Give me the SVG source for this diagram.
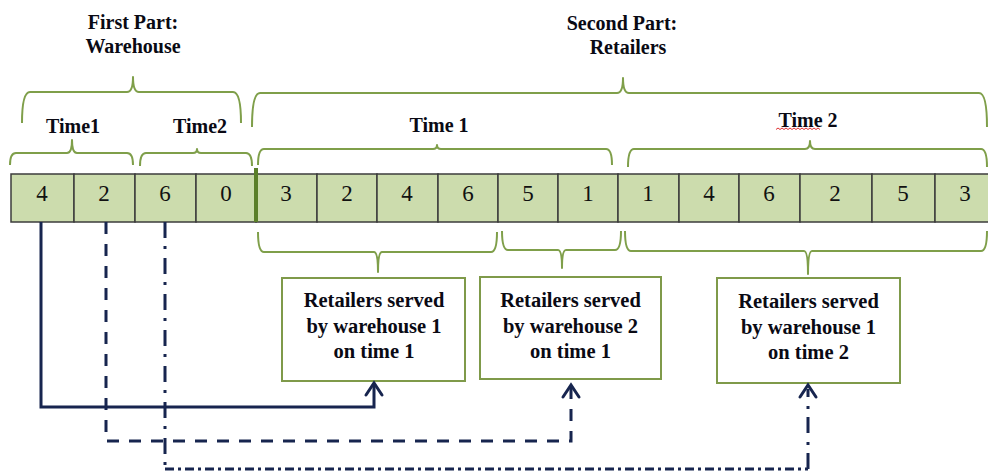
<svg xmlns="http://www.w3.org/2000/svg" width="988" height="473" viewBox="0 0 988 473">
  <style>
    .title { font-family: "Liberation Serif", "Times New Roman", serif; font-weight: bold; font-size: 20px; fill: #0a0a14; text-anchor: middle; }
    .num { font-family: "Liberation Serif", "Times New Roman", serif; font-size: 23px; fill: #111111; text-anchor: middle; }
    .box text { font-family: "Liberation Serif", "Times New Roman", serif; font-weight: bold; font-size: 20.5px; fill: #0a0a14; text-anchor: middle; }
    .brace { fill: none; stroke: #7f9f4a; stroke-width: 2; stroke-linejoin: round; }
    .cell { fill: #ccdcad; stroke: #3c3c3c; stroke-width: 1.5; }
    .boxrect { fill: #ffffff; stroke: #7f9a4a; stroke-width: 2; }
    .link { fill: none; stroke: #17254f; stroke-width: 3; }
    .head { fill: none; stroke: #17254f; stroke-width: 3; stroke-linecap: round; stroke-linejoin: miter; }
  </style>

  <rect width="988" height="473" fill="#ffffff"/>

  <!-- headings -->
  <g id="heading-warehouse">
    <text class="title" x="133" y="29">First Part:</text>
    <text class="title" x="133" y="53">Warehouse</text>
  </g>
  <g id="heading-retailers">
    <text class="title" x="622" y="30">Second Part:</text>
    <text class="title" x="628" y="54">Retailers</text>
  </g>

  <!-- upper braces -->
  <g id="braces-top">
    <path class="brace" d="M22,123 Q22,92 30,92 L127,92 Q133,92 133,77 Q133,92 139,92 L233,92 Q241,92 241,123"/>
    <path class="brace" d="M252,127 Q252,93 260,93 L617,93 Q623,93 623,78 Q623,93 629,93 L979,93 Q987,93 987,127"/>
    <path class="brace" d="M10,165 Q10,153 16,153 L67,153 Q72,153 72,140 Q72,153 77,153 L127,153 Q133,153 133,165"/>
    <path class="brace" d="M140,166 Q140,153 146,153 L193,153 Q197,153 197,149 Q197,153 201,153 L246,153 Q252,153 252,166"/>
    <path class="brace" d="M258,165 Q258,149 264,149 L433,149 Q437,149 437,145 Q437,149 441,149 L606,149 Q612,149 612,165"/>
    <path class="brace" d="M628,167 Q628,149 634,149 L805,149 Q810,149 810,141 Q810,149 815,149 L981,149 Q987,149 987,167"/>
  </g>

  <!-- time labels -->
  <g id="label-time1-wh"><text class="title" x="73" y="133">Time1</text></g>
  <g id="label-time2-wh"><text class="title" x="200" y="133">Time2</text></g>
  <g id="label-time1-rt"><text class="title" x="439" y="132">Time 1</text></g>
  <g id="label-time2-rt">
    <text class="title" x="808" y="127">Time 2</text>
    <path d="M776,129.5 l2,-1.5 l2,1.5 l2,-1.5 l2,1.5 l2,-1.5 l2,1.5 l2,-1.5 l2,1.5 l2,-1.5 l2,1.5 l2,-1.5 l2,1.5 l2,-1.5 l2,1.5 l2,-1.5 l2,1.5 l2,-1.5 l2,1.5 l2,-1.5 l2,1.5 l2,-1.5 l2,1.5" fill="none" stroke="#e03030" stroke-width="1"/>
  </g>

  <!-- chromosome row -->
  <g id="sequence">
    <rect class="cell" x="11" y="174" width="63" height="48"/>
    <rect class="cell" x="74" y="174" width="61" height="48"/>
    <rect class="cell" x="135" y="174" width="61" height="48"/>
    <rect class="cell" x="196" y="174" width="60" height="48"/>
    <rect class="cell" x="256" y="174" width="61" height="48"/>
    <rect class="cell" x="317" y="174" width="60" height="48"/>
    <rect class="cell" x="377" y="174" width="61" height="48"/>
    <rect class="cell" x="438" y="174" width="60" height="48"/>
    <rect class="cell" x="498" y="174" width="60" height="48"/>
    <rect class="cell" x="558" y="174" width="60" height="48"/>
    <rect class="cell" x="618" y="174" width="61" height="48"/>
    <rect class="cell" x="679" y="174" width="60" height="48"/>
    <rect class="cell" x="739" y="174" width="61" height="48"/>
    <rect class="cell" x="800" y="174" width="72" height="48"/>
    <rect class="cell" x="872" y="174" width="63" height="48"/>
    <rect class="cell" x="935" y="174" width="60" height="48"/>
    <line x1="256" y1="168" x2="256" y2="222" stroke="#5b7f2a" stroke-width="4"/>
    <text class="num" x="42" y="201">4</text>
    <text class="num" x="104" y="201">2</text>
    <text class="num" x="165" y="201">6</text>
    <text class="num" x="226" y="201">0</text>
    <text class="num" x="286" y="201">3</text>
    <text class="num" x="347" y="201">2</text>
    <text class="num" x="407" y="201">4</text>
    <text class="num" x="468" y="201">6</text>
    <text class="num" x="528" y="201">5</text>
    <text class="num" x="588" y="201">1</text>
    <text class="num" x="648" y="201">1</text>
    <text class="num" x="709" y="201">4</text>
    <text class="num" x="769" y="201">6</text>
    <text class="num" x="835" y="201">2</text>
    <text class="num" x="903" y="201">5</text>
    <text class="num" x="965" y="201">3</text>
  </g>

  <!-- lower braces -->
  <g id="braces-bottom">
    <path class="brace" d="M258,232 Q258,252 264,252 L374,252 Q378,252 378,272 Q378,252 382,252 L491,252 Q497,252 497,232"/>
    <path class="brace" d="M502,231 Q502,250 508,250 L558,250 Q562,250 562,268 Q562,250 566,250 L615,250 Q621,250 621,231"/>
    <path class="brace" d="M625,231 Q625,251 631,251 L804,251 Q808,251 808,274 Q808,251 812,251 L981,251 Q987,251 987,231"/>
  </g>

  <!-- retailer group boxes -->
  <g id="box-w1-t1" class="box">
    <rect class="boxrect" x="282" y="278" width="183" height="103"/>
    <text x="374" y="307">Retailers served</text>
    <text x="374" y="333">by warehouse 1</text>
    <text x="374" y="358">on time 1</text>
  </g>
  <g id="box-w2-t1" class="box">
    <rect class="boxrect" x="480" y="277" width="181" height="102"/>
    <text x="570.5" y="307">Retailers served</text>
    <text x="570.5" y="333">by warehouse 2</text>
    <text x="570.5" y="358">on time 1</text>
  </g>
  <g id="box-w1-t2" class="box">
    <rect class="boxrect" x="717" y="278" width="183" height="105"/>
    <text x="808.5" y="308">Retailers served</text>
    <text x="808.5" y="334">by warehouse 1</text>
    <text x="808.5" y="359">on time 2</text>
  </g>

  <!-- assignment connectors -->
  <g id="connectors">
    <path class="link" d="M41,222 V407 H374 V385"/>
    <path class="head" d="M366,395 L374,383 L382,395"/>

    <path class="link" d="M106,222 V441 H571 V387" stroke-dasharray="12 10"/>
    <path class="head" d="M563,397 L571,385 L579,397"/>

    <path class="link" d="M165,222 V469" stroke-dasharray="16 8 3 9"/>
    <path class="link" d="M165,469 H808" stroke-dasharray="9 4 3 4"/>
    <path class="link" d="M808,469 V389" stroke-dasharray="16 8 3 9"/>
    <path class="head" d="M800,397 L808,385 L816,397"/>
  </g>
</svg>
